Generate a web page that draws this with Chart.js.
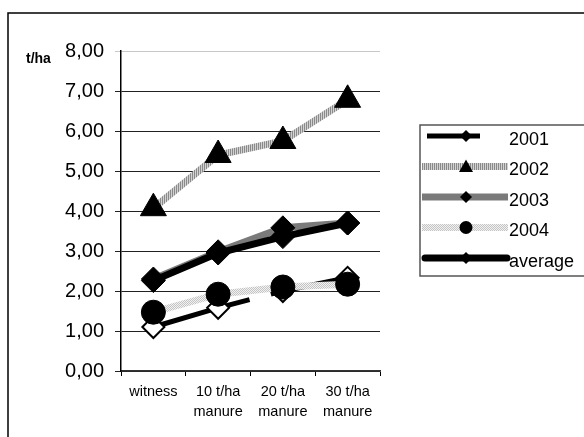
<!DOCTYPE html>
<html>
<head>
<meta charset="utf-8">
<script src="https://cdn.jsdelivr.net/npm/chart.js@4/dist/chart.umd.min.js"></script>
<style>
  html, body { margin: 0; padding: 0; background: #fff; }
  #wrap { width: 584px; height: 437px; position: relative; }
</style>
</head>
<body>
<div id="wrap"><canvas id="chart"></canvas></div>
<script>
const categories = ['witness', ['10 t/ha', 'manure'], ['20 t/ha', 'manure'], ['30 t/ha', 'manure']]
const yTickLabels = ['0,00', '1,00', '2,00', '3,00', '4,00', '5,00', '6,00', '7,00', '8,00']
const seriesNames = ['2001', '2002', '2003', '2004', 'average']
const yield2001 = [1.1, 1.58, 2.0, 2.33]
const yield2002 = [4.07, 5.4, 5.75, 6.78]
const yield2003 = [2.3, 2.98, 3.58, 3.7]
const yield2004 = [1.47, 1.92, 2.1, 2.17]
const yieldAverage = [2.26, 2.95, 3.36, 3.7]

const FONT = "'Liberation Sans', Arial, sans-serif"
const canvas = document.getElementById('chart')
const ctx = canvas.getContext('2d')

// excel-ish hatched line fills
function makePattern(w, h, paint) {
  const c = document.createElement('canvas')
  c.width = w
  c.height = h
  paint(c.getContext('2d'))
  return ctx.createPattern(c, 'repeat')
}
const hatch2002 = makePattern(2, 1, (g) => {
  g.fillStyle = '#8a8a8a'; g.fillRect(0, 0, 1, 1)
  g.fillStyle = '#d2d2d2'; g.fillRect(1, 0, 1, 1)
})
const dots2004 = makePattern(2, 2, (g) => {
  g.fillStyle = '#f2f2f2'; g.fillRect(0, 0, 2, 2)
  g.fillStyle = '#c4c4c4'; g.fillRect(0, 0, 1, 1); g.fillRect(1, 1, 1, 1)
})

// legend samples: line start/end, marker
const legendStyle = [
  { x1: 427, x2: 480, marker: 'diamond', r: 6, cap: 'butt' },
  { x1: 422, x2: 508, marker: 'triangle', r: 7, cap: 'butt' },
  { x1: 422, x2: 508, marker: 'diamond', r: 6, cap: 'butt' },
  { x1: 422, x2: 508, marker: 'circle', r: 6.5, cap: 'butt' },
  { x1: 425, x2: 507, marker: 'diamond', r: 6, cap: 'round' },
]

function marker(g, type, x, y, r) {
  g.beginPath()
  if (type === 'circle') {
    g.arc(x, y, r, 0, Math.PI * 2)
  } else if (type === 'triangle') {
    g.moveTo(x, y - r)
    g.lineTo(x + r, y + r * 0.8)
    g.lineTo(x - r, y + r * 0.8)
    g.closePath()
  } else {
    g.moveTo(x, y - r)
    g.lineTo(x + r, y)
    g.lineTo(x, y + r)
    g.lineTo(x - r, y)
    g.closePath()
  }
  g.fill()
}

const decor = {
  id: 'decor',
  afterDraw(chart) {
    const g = chart.ctx
    g.save()
    // outer chart frame (cropped at right/bottom)
    g.strokeStyle = '#000'
    g.lineWidth = 1.5
    g.beginPath()
    g.moveTo(8, 437)
    g.lineTo(8, 13)
    g.lineTo(584, 13)
    g.stroke()

    // unit label
    g.fillStyle = '#000'
    g.font = 'bold 14px ' + FONT
    g.textBaseline = 'middle'
    g.textAlign = 'left'
    g.fillText('t/ha', 26, 59)

    // legend frame
    g.strokeStyle = '#555'
    g.lineWidth = 1.5
    g.strokeRect(420, 125, 200, 151)

    g.font = '18px ' + FONT
    chart.data.datasets.forEach((ds, i) => {
      const st = legendStyle[i]
      const y = 136 + i * 30.5
      g.strokeStyle = ds.borderColor
      g.lineWidth = ds.borderWidth
      g.lineCap = st.cap
      g.beginPath()
      g.moveTo(st.x1, y)
      g.lineTo(st.x2, y)
      g.stroke()
      g.fillStyle = '#000'
      marker(g, st.marker, 466, y, st.r)
      g.fillText(ds.label, 509, y + 4)
    })
    g.restore()
  }
}

new Chart(canvas, {
  type: 'line',
  data: {
    labels: categories,
    datasets: [
      {
        label: seriesNames[0],
        data: yield2001,
        borderColor: '#000',
        borderWidth: 5,
        borderDash: [100, 22],
        pointStyle: 'rectRot',
        pointRadius: 11,
        pointBackgroundColor: '#fff',
        pointBorderColor: '#000',
        pointBorderWidth: 2,
        order: 5,
      },
      {
        label: seriesNames[1],
        data: yield2002,
        borderColor: hatch2002,
        borderWidth: 7,
        pointStyle: 'triangle',
        pointRadius: 15,
        pointBackgroundColor: '#000',
        pointBorderColor: '#000',
        pointBorderWidth: 1,
        order: 4,
      },
      {
        label: seriesNames[2],
        data: yield2003,
        borderColor: '#7a7a7a',
        borderWidth: 7,
        pointStyle: 'rectRot',
        pointRadius: 12,
        pointBackgroundColor: '#000',
        pointBorderColor: '#000',
        pointBorderWidth: 1,
        order: 3,
      },
      {
        label: seriesNames[3],
        data: yield2004,
        borderColor: dots2004,
        borderWidth: 7,
        pointStyle: 'circle',
        pointRadius: 12,
        pointBackgroundColor: '#000',
        pointBorderColor: '#000',
        pointBorderWidth: 1,
        order: 2,
      },
      {
        label: seriesNames[4],
        data: yieldAverage,
        borderColor: '#000',
        borderWidth: 7,
        pointStyle: 'rectRot',
        pointRadius: 12,
        pointBackgroundColor: '#000',
        pointBorderColor: '#000',
        pointBorderWidth: 1,
        order: 1,
      },
    ],
  },
  options: {
    responsive: true,
    maintainAspectRatio: false,
    animation: false,
    layout: { padding: { top: 51, right: 204, left: 0, bottom: 0 } },
    plugins: {
      legend: { display: false },
      tooltip: { enabled: false },
    },
    scales: {
      x: {
        offset: true,
        grid: {
          offset: true,
          drawOnChartArea: false,
          drawTicks: true,
          tickLength: 5,
          color: '#000',
        },
        border: { color: '#333', width: 1.5 },
        ticks: {
          color: '#000',
          font: { family: FONT, size: 14.5, lineHeight: 1.38 },
          padding: 6,
          maxRotation: 0,
          autoSkip: false,
        },
        afterFit: (s) => { s.height = 66 },
      },
      y: {
        min: 0,
        max: 8,
        grid: {
          color: (c) => (c.tick && c.tick.value === 8 ? '#c8c8c8' : '#222'),
          lineWidth: 1,
          tickLength: 6,
        },
        border: { color: '#000', width: 1.5 },
        ticks: {
          stepSize: 1,
          color: '#000',
          font: { family: FONT, size: 20 },
          padding: 11,
          callback: (v, i) => yTickLabels[i],
        },
        afterFit: (s) => { s.width = 121 },
      },
    },
  },
  plugins: [decor],
})
</script>
</body>
</html>
